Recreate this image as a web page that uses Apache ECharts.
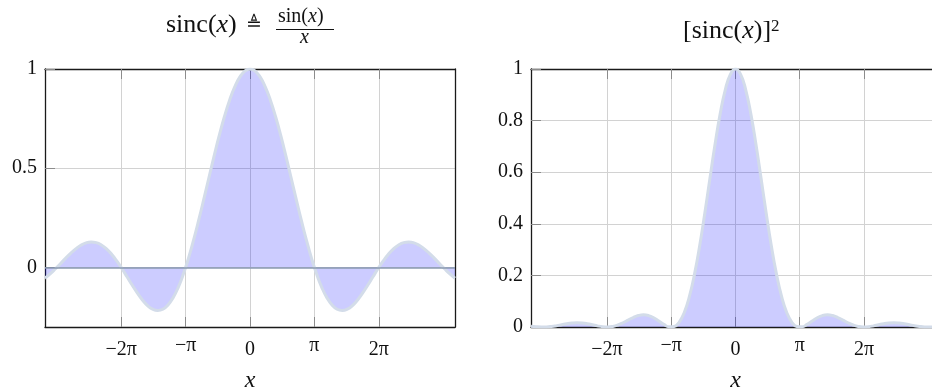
<!DOCTYPE html>
<html><head><meta charset="utf-8">
<script src="https://cdn.jsdelivr.net/npm/echarts@6/dist/echarts.min.js"></script>
<style>html,body{margin:0;padding:0;background:#fff}#c{width:932px;height:392px}</style>
</head><body><div id="c"></div>
<script>
// ---- data ----
const xValues = [-10,-9.75,-9.5,-9.25,-9,-8.75,-8.5,-8.25,-8,-7.75,-7.5,-7.25,-7,-6.75,-6.5,-6.25,-6,-5.75,-5.5,-5.25,-5,-4.75,-4.5,-4.25,-4,-3.75,-3.5,-3.25,-3,-2.75,-2.5,-2.25,-2,-1.75,-1.5,-1.25,-1,-0.75,-0.5,-0.25,0,0.25,0.5,0.75,1,1.25,1.5,1.75,2,2.25,2.5,2.75,3,3.25,3.5,3.75,4,4.25,4.5,4.75,5,5.25,5.5,5.75,6,6.25,6.5,6.75,7,7.25,7.5,7.75,8,8.25,8.5,8.75,9,9.25,9.5,9.75,10];
const sincValues = [-0.0544,-0.0328,-0.0079,0.0188,0.0458,0.0714,0.0939,0.1118,0.1237,0.1283,0.1251,0.1135,0.0939,0.0667,0.0331,-0.0053,-0.0466,-0.0884,-0.1283,-0.1636,-0.1918,-0.2104,-0.2172,-0.2106,-0.1892,-0.1524,-0.1002,-0.0333,0.0470,0.1388,0.2394,0.3458,0.4546,0.5623,0.6650,0.7592,0.8415,0.9089,0.9589,0.9896,1,0.9896,0.9589,0.9089,0.8415,0.7592,0.6650,0.5623,0.4546,0.3458,0.2394,0.1388,0.0470,-0.0333,-0.1002,-0.1524,-0.1892,-0.2106,-0.2172,-0.2104,-0.1918,-0.1636,-0.1283,-0.0884,-0.0466,-0.0053,0.0331,0.0667,0.0939,0.1135,0.1251,0.1283,0.1237,0.1118,0.0939,0.0714,0.0458,0.0188,-0.0079,-0.0328,-0.0544];
const sincSquaredValues = [0.0030,0.0011,0.0001,0.0004,0.0021,0.0051,0.0088,0.0125,0.0153,0.0165,0.0156,0.0129,0.0088,0.0044,0.0011,0.0000,0.0022,0.0078,0.0165,0.0268,0.0368,0.0443,0.0472,0.0443,0.0358,0.0232,0.0100,0.0011,0.0022,0.0193,0.0573,0.1196,0.2067,0.3162,0.4422,0.5764,0.7081,0.8260,0.9194,0.9793,1,0.9793,0.9194,0.8260,0.7081,0.5764,0.4422,0.3162,0.2067,0.1196,0.0573,0.0193,0.0022,0.0011,0.0100,0.0232,0.0358,0.0443,0.0472,0.0443,0.0368,0.0268,0.0165,0.0078,0.0022,0.0000,0.0011,0.0044,0.0088,0.0129,0.0156,0.0165,0.0153,0.0125,0.0088,0.0051,0.0021,0.0004,0.0001,0.0011,0.0030];
const xTickMultiplesOfPi = [-2,-1,0,1,2];
const xTickLabels = ['−2π','−π','0','π','2π'];
const leftYTicks = [0,0.5,1];
const leftYTickLabels = ['0','0.5','1'];
const rightYTicks = [0,0.2,0.4,0.6,0.8,1];
const rightYTickLabels = ['0','0.2','0.4','0.6','0.8','1'];
const xRange = [-10,10];
const leftYRange = [-0.3,1];
const rightYRange = [0,1];

// ---- styles ----
const FONT = '"Liberation Serif","DejaVu Serif",serif';
const TXT = '#111';
const AXIS = '#1a1a1a';
const TICK = '#8c8c8c';
const GRIDC = '#d2d2d2';
const FILL = 'rgba(0,0,255,0.2)';
const STROKE = '#d3dce9';

const xTickValues = xTickMultiplesOfPi.map(m => m * Math.PI);
function nearestIndex(values, v) {
  let best = 0;
  for (let i = 1; i < values.length; i++) if (Math.abs(values[i]-v) < Math.abs(values[best]-v)) best = i;
  return best;
}
function labelFor(values, labels) {
  return v => labels[nearestIndex(values, v)];
}
function xLabel(v) {
  const s = xTickLabels[nearestIndex(xTickValues, v)];
  // labels without a digit (only π) sit higher, as top-anchored TeX boxes do
  return /[0-9]/.test(s) ? '{n|' + s + '}' : '{p|' + s + '}';
}
function bottomX(gi) {
  return {
    type:'value', gridIndex:gi, min:xRange[0], max:xRange[1], position:'bottom',
    axisLine:{show:true, onZero:false, lineStyle:{color:AXIS, width:1.3}},
    axisTick:{show:true, inside:true, length:10, customValues:xTickValues, lineStyle:{color:TICK, width:1}},
    axisLabel:{show:true, customValues:xTickValues, formatter:xLabel, margin:11, color:TXT, fontFamily:FONT, fontSize:20,
      rich:{n:{fontFamily:FONT, fontSize:20, color:TXT, lineHeight:24}, p:{fontFamily:FONT, fontSize:20, color:TXT, lineHeight:15}}},
    splitLine:{show:true, lineStyle:{color:GRIDC, width:1}},
    name:'x', nameLocation:'middle', nameGap:42, nameMoveOverlap:false,
    nameTextStyle:{fontStyle:'italic', fontSize:24, fontFamily:FONT, color:TXT}
  };
}
function topX(gi) {
  return {
    type:'value', gridIndex:gi, min:xRange[0], max:xRange[1], position:'top',
    axisLine:{show:true, onZero:false, lineStyle:{color:AXIS, width:1.3}},
    axisTick:{show:true, inside:true, length:10, customValues:xTickValues, lineStyle:{color:TICK, width:1}},
    axisLabel:{show:false}, splitLine:{show:false}
  };
}
function leftY(gi, range, ticks, labels) {
  return {
    type:'value', gridIndex:gi, min:range[0], max:range[1], position:'left',
    axisLine:{show:true, onZero:false, lineStyle:{color:AXIS, width:1.3}},
    axisTick:{show:true, inside:true, length:10, customValues:ticks, lineStyle:{color:TICK, width:1}},
    axisLabel:{show:true, customValues:ticks, formatter:labelFor(ticks,labels), margin:8, color:TXT, fontFamily:FONT, fontSize:20},
    splitLine:{show:true, lineStyle:{color:GRIDC, width:1}}
  };
}
function rightY(gi, range) {
  return {
    type:'value', gridIndex:gi, min:range[0], max:range[1], position:'right',
    axisLine:{show:true, onZero:false, lineStyle:{color:AXIS, width:1.3}},
    axisTick:{show:false}, axisLabel:{show:false}, splitLine:{show:false}
  };
}

const chart = echarts.init(document.getElementById('c'), null, {renderer:'canvas'});
chart.setOption({
  animation:false,
  backgroundColor:'#fff',
  grid:[
    {left:45, top:69, width:410, height:258, outerBoundsMode:'none', containLabel:false},
    {left:531, top:69, width:409, height:258, outerBoundsMode:'none', containLabel:false}
  ],
  xAxis:[bottomX(0), topX(0), bottomX(1), topX(1)],
  yAxis:[leftY(0,leftYRange,leftYTicks,leftYTickLabels), rightY(0,leftYRange),
         leftY(1,rightYRange,rightYTicks,rightYTickLabels)],
  series:[
    {type:'line', xAxisIndex:0, yAxisIndex:0, data:xValues.map((x,i)=>[x,sincValues[i]]),
     showSymbol:false, smooth:true, clip:true,
     lineStyle:{color:STROKE, width:3}, areaStyle:{color:FILL, opacity:1},
     markLine:{silent:true, symbol:'none', label:{show:false},
       lineStyle:{color:'#8a9ab0', width:1.5, type:'solid'}, data:[{yAxis:0}]}},
    {type:'line', xAxisIndex:2, yAxisIndex:2, data:xValues.map((x,i)=>[x,sincSquaredValues[i]]),
     showSymbol:false, smooth:true, clip:true,
     lineStyle:{color:STROKE, width:3}, areaStyle:{color:FILL, opacity:1}}
  ],
  graphic:[
    {type:'text', left:166, top:12, style:{text:'{n|sinc(}{i|x}{n|)}', rich:{n:{fontFamily:FONT,fontSize:26,fill:TXT}, i:{fontFamily:FONT,fontSize:26,fontStyle:'italic',fill:TXT}}}},
    {type:'text', left:246, top:16, style:{text:'≜', fontFamily:'"DejaVu Serif",serif', fontSize:19, fill:TXT}},
    {type:'text', left:278, top:7, style:{text:'{n|sin(}{i|x}{n|)}', rich:{n:{fontFamily:FONT,fontSize:20,fill:TXT}, i:{fontFamily:FONT,fontSize:20,fontStyle:'italic',fill:TXT}}}},
    {type:'line', shape:{x1:276, y1:29.5, x2:334, y2:29.5}, style:{stroke:TXT, lineWidth:1}},
    {type:'text', left:300, top:28, style:{text:'x', fontFamily:FONT, fontSize:20, fontStyle:'italic', fill:TXT}},
    {type:'text', left:683, top:18, style:{text:'{n|[sinc(}{i|x}{n|)]}{s|2}', rich:{n:{fontFamily:FONT,fontSize:26,fill:TXT}, i:{fontFamily:FONT,fontSize:26,fontStyle:'italic',fill:TXT}, s:{fontFamily:FONT,fontSize:17,fill:TXT,verticalAlign:'top'}}}}
  ]
});
</script></body></html>
